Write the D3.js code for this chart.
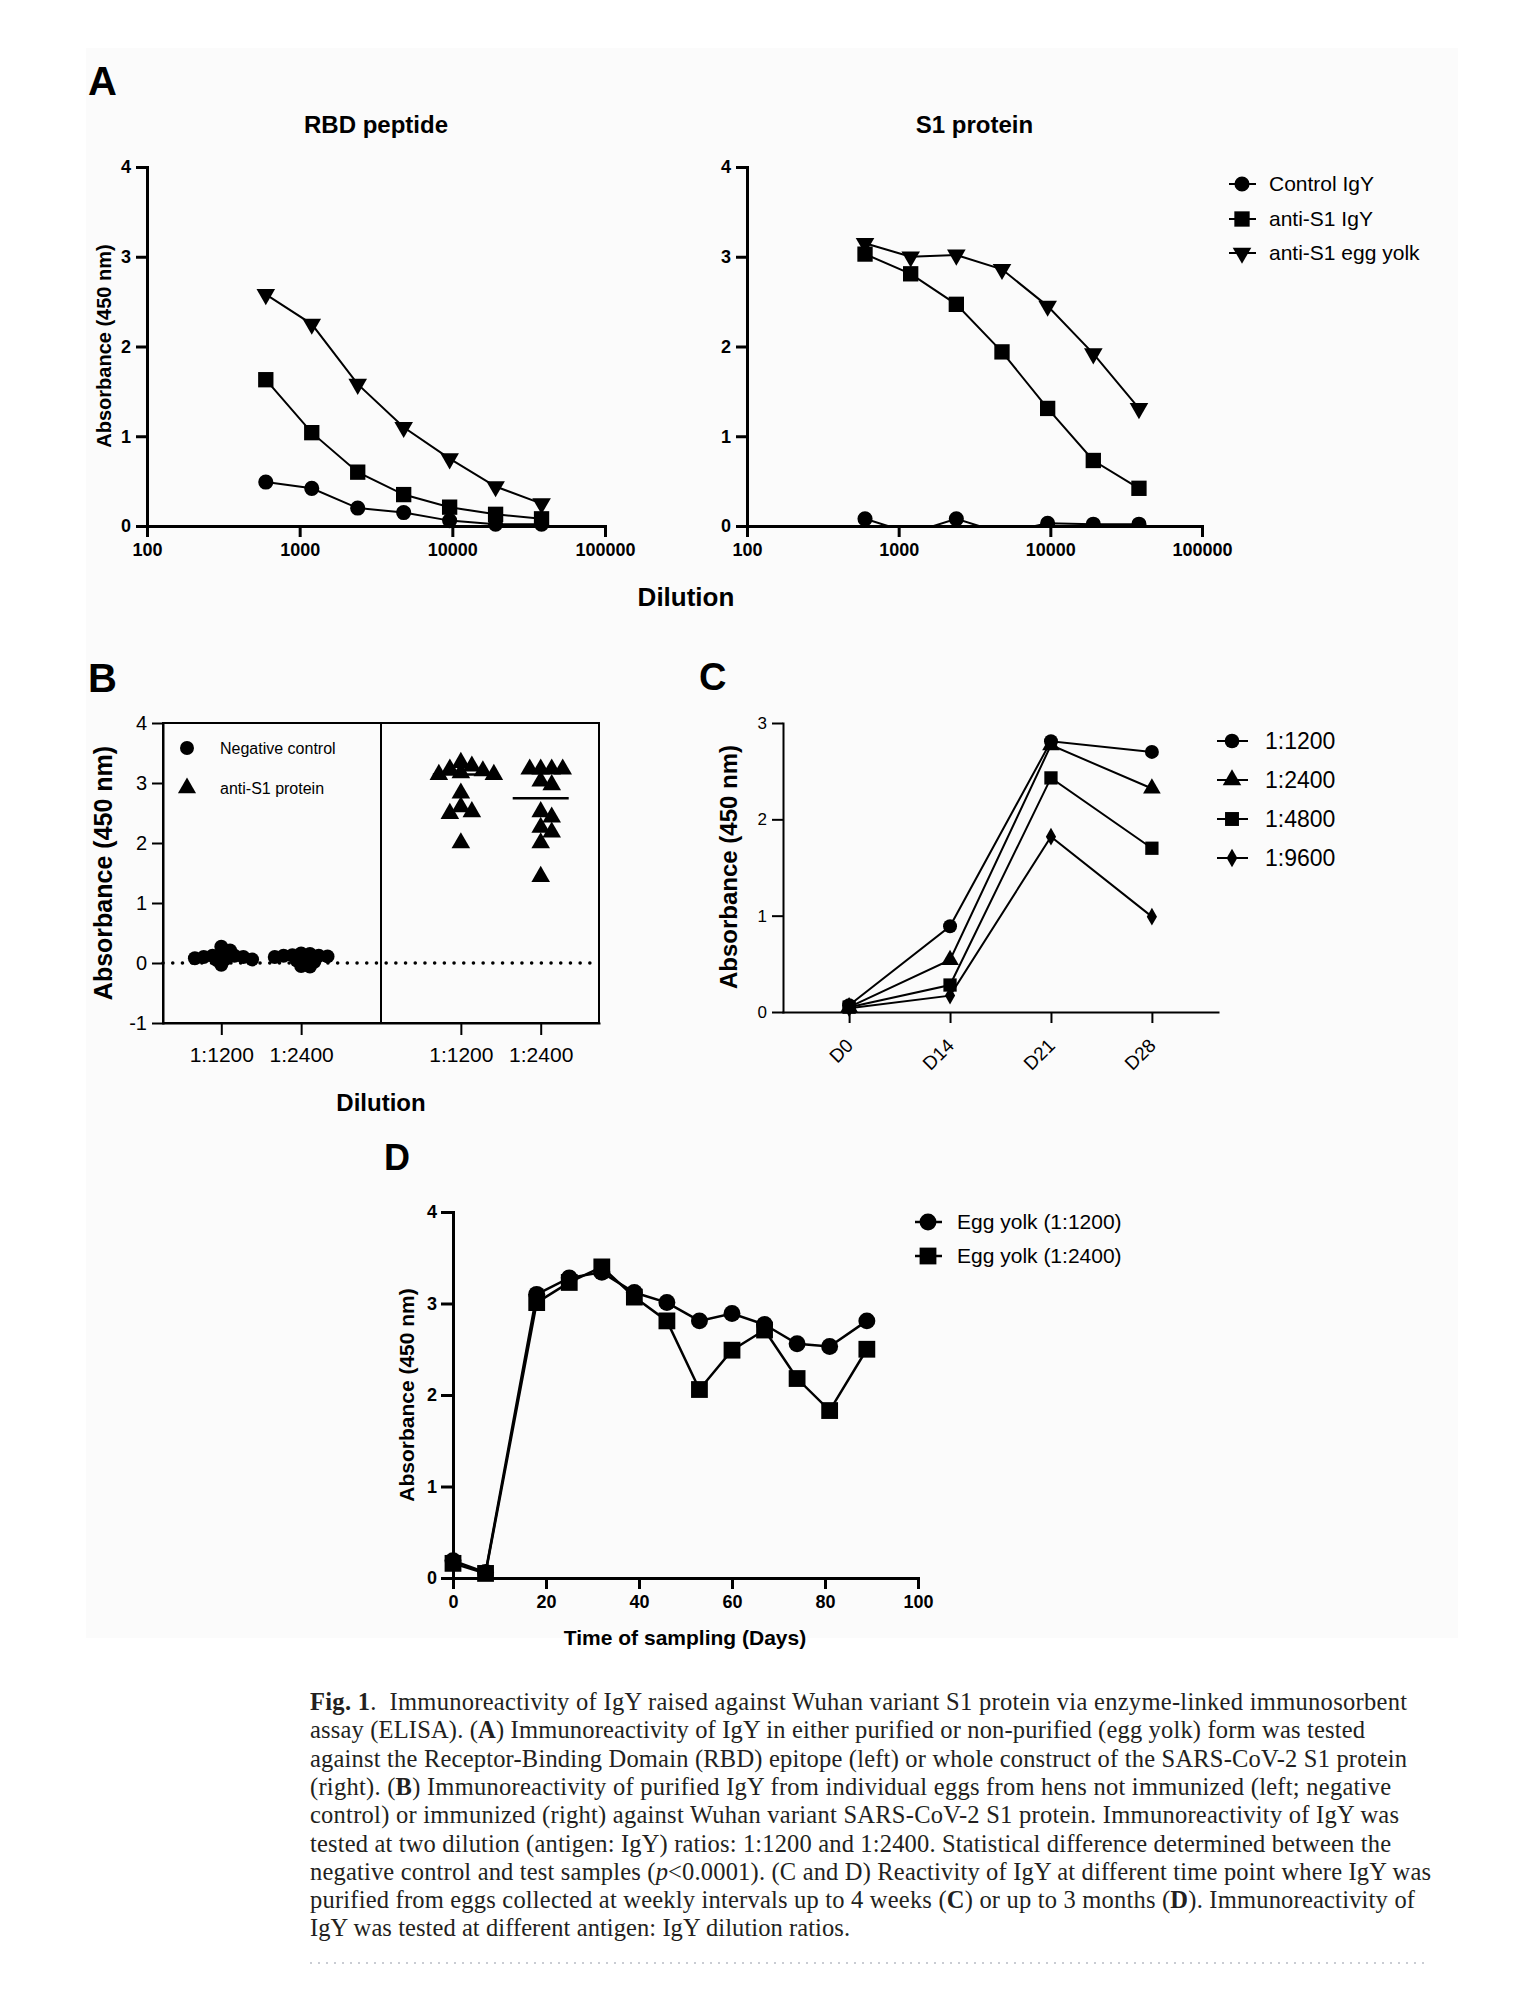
<!DOCTYPE html>
<html lang="en">
<head>
  <meta charset="UTF-8">
  <title>Fig. 1 - IgY ELISA</title>
  <style>
    body { margin: 0; background: #ffffff; }
    svg { display: block; }
    .cap { white-space: pre; }
  </style>
</head>
<body>
  <svg id="fig" width="1522" height="2010"></svg>

  <script src="https://d3js.org/d3.v7.min.js"></script>
  <script>
    // ---- panel A : dilution curves ----
    const dilutions = [600, 1200, 2400, 4800, 9600, 19200, 38400];
    const dilutionTicks = [100, 1000, 10000, 100000];
    const rbdControl = [0.49, 0.42, 0.20, 0.15, 0.06, 0.02, 0.02];
    const rbdAntiIgY = [1.63, 1.04, 0.60, 0.35, 0.21, 0.13, 0.08];
    const rbdEggYolk = [2.58, 2.25, 1.58, 1.10, 0.75, 0.44, 0.25];
    const s1Control = [0.08, -0.08, 0.08, -0.08, 0.03, 0.02, 0.02];
    const s1AntiIgY = [3.03, 2.81, 2.47, 1.94, 1.31, 0.73, 0.42];
    const s1EggYolk = [3.15, 3.00, 3.02, 2.86, 2.45, 1.92, 1.31];
    const seriesA = ["Control IgY", "anti-S1 IgY", "anti-S1 egg yolk"];

    // ---- panel B : individual eggs ----
    const groupsB = ["1:1200", "1:2400", "1:1200", "1:2400"];
    const neg1200 = [0.12, 0.10, 0.07, 0.06, 0.10, 0.14, 0.27, 0.05, 0.21, 0.12, -0.03, 0.08];
    const neg2400 = [0.10, 0.11, 0.08, 0.12, 0.04, 0.13, 0.16, 0.15, 0.02, -0.05, 0.12, -0.06];
    const pos1200 = [3.34, 3.14, 3.23, 3.20, 3.28, 3.17, 3.14, 2.83, 2.60, 2.52, 2.49, 2.00];
    const pos2400 = [3.23, 3.23, 3.23, 3.23, 3.03, 2.97, 2.43, 2.52, 2.26, 2.18, 2.00, 1.44];
    const legendB = ["Negative control", "anti-S1 protein"];

    // ---- panel C : weekly ----
    const daysC = ["D0", "D14", "D21", "D28"];
    const c1200 = [0.07, 0.89, 2.81, 2.70];
    const c2400 = [0.05, 0.54, 2.77, 2.32];
    const c4800 = [0.05, 0.28, 2.43, 1.70];
    const c9600 = [0.04, 0.17, 1.82, 0.99];
    const seriesC = ["1:1200", "1:2400", "1:4800", "1:9600"];

    // ---- panel D : 3 months ----
    const daysD = [0, 7, 18, 25, 32, 39, 46, 53, 60, 67, 74, 81, 89];
    const d1200 = [0.19, 0.06, 3.10, 3.28, 3.34, 3.12, 3.01, 2.81, 2.89, 2.77, 2.56, 2.53, 2.81];
    const d2400 = [0.16, 0.05, 3.01, 3.23, 3.40, 3.07, 2.81, 2.06, 2.49, 2.71, 2.18, 1.83, 2.50];
    const seriesD = ["Egg yolk (1:1200)", "Egg yolk (1:2400)"];

    // ---- caption ----
    const captionLines = [
      [["Fig. 1", "b"], [".  Immunoreactivity of IgY raised against Wuhan variant S1 protein via enzyme-linked immunosorbent", ""]],
      [["assay (ELISA). (", ""], ["A", "b"], [") Immunoreactivity of IgY in either purified or non-purified (egg yolk) form was tested", ""]],
      [["against the Receptor-Binding Domain (RBD) epitope (left) or whole construct of the SARS-CoV-2 S1 protein", ""]],
      [["(right). (", ""], ["B", "b"], [") Immunoreactivity of purified IgY from individual eggs from hens not immunized (left; negative", ""]],
      [["control) or immunized (right) against Wuhan variant SARS-CoV-2 S1 protein. Immunoreactivity of IgY was", ""]],
      [["tested at two dilution (antigen: IgY) ratios: 1:1200 and 1:2400. Statistical difference determined between the", ""]],
      [["negative control and test samples (", ""], ["p", "i"], ["<0.0001). (C and D) Reactivity of IgY at different time point where IgY was", ""]],
      [["purified from eggs collected at weekly intervals up to 4 weeks (", ""], ["C", "b"], [") or up to 3 months (", ""], ["D", "b"], ["). Immunoreactivity of", ""]],
      [["IgY was tested at different antigen: IgY dilution ratios.", ""]]
    ];
    const captionWidths = [1097, 1055, 1097, 1081, 1089, 1081, 1121, 1105, 540];

    const FONT = '"Liberation Sans", Arial, Helvetica, sans-serif';
    const svg = d3.select("#fig").attr("font-family", FONT);
    const intFmt = d => String(d);

    // light figure background
    svg.append("rect").attr("x", 86).attr("y", 48).attr("width", 1372).attr("height", 1590).attr("fill", "#fbfbfb");

    const shapes = {
      circle: { type: d3.symbolCircle, size: 180, rot: 0 },
      square: { type: d3.symbolSquare, size: 235, rot: 0 },
      up: { type: d3.symbolTriangle, size: 150, rot: 0 },
      down: { type: d3.symbolTriangle, size: 150, rot: 180 },
      diamond: { type: d3.symbolDiamond, size: 90, rot: 0 }
    };

    function marker(g, shape, x, y, k) {
      g.append("path")
        .attr("d", d3.symbol().type(shape.type).size(shape.size * (k || 1))())
        .attr("transform", `translate(${x},${y}) rotate(${shape.rot})`)
        .attr("fill", "#000");
    }

    function series(g, xs, ys, x, y, shape, lw, k) {
      const pts = xs.map((v, i) => [x(v), y(ys[i])]);
      g.append("path").attr("d", d3.line()(pts))
        .attr("fill", "none").attr("stroke", "#000").attr("stroke-width", lw);
      pts.forEach(p => marker(g, shape, p[0], p[1], k));
    }

    function styleAxis(g, sw, size, weight) {
      g.attr("font-family", FONT).attr("font-size", size);
      g.select(".domain").attr("stroke", "#000").attr("stroke-width", sw).attr("stroke-linecap", "square");
      g.selectAll(".tick line").attr("stroke", "#000").attr("stroke-width", sw);
      g.selectAll(".tick text").attr("fill", "#000").attr("font-weight", weight);
    }

    function label(txt, x, y, size, weight, anchor) {
      return svg.append("text").attr("x", x).attr("y", y)
        .attr("font-size", size).attr("font-weight", weight || "normal")
        .attr("text-anchor", anchor || "middle").attr("fill", "#000").text(txt);
    }

    function yTitle(txt, cx, cy, size) {
      svg.append("text").attr("transform", `translate(${cx},${cy}) rotate(-90)`)
        .attr("dy", "0.35em").attr("text-anchor", "middle")
        .attr("font-size", size).attr("font-weight", "bold").attr("fill", "#000").text(txt);
    }

    function legendRow(g, shape, x, y, txt, x0, x1, tx, size, lw, k) {
      g.append("line").attr("x1", x0).attr("x2", x1).attr("y1", y).attr("y2", y)
        .attr("stroke", "#000").attr("stroke-width", lw);
      marker(g, shape, x, y, k);
      g.append("text").attr("x", tx).attr("y", y).attr("dy", "0.35em")
        .attr("font-size", size).attr("fill", "#000").text(txt);
    }

    // panel letters
    label("A", 88, 95, 40, "bold", "start");
    label("B", 88, 692, 40, "bold", "start");
    label("C", 699, 690, 38, "bold", "start");
    label("D", 384, 1170, 36, "bold", "start");

    // ================= Panel A =================
    function panelA(x0, x1, title, ctrl, igy, yolk, clip) {
      const x = d3.scaleLog().domain([100, 100000]).range([x0, x1]);
      const y = d3.scaleLinear().domain([0, 4]).range([526, 167]);
      const g = svg.append("g");

      if (clip) {
        svg.append("clipPath").attr("id", clip).append("rect")
          .attr("x", x0 - 20).attr("y", 140).attr("width", x1 - x0 + 40).attr("height", y(0) + 1.5 - 140);
        g.attr("clip-path", `url(#${clip})`);
      }
      series(g, dilutions, ctrl, x, y, shapes.circle, 2);
      series(g, dilutions, igy, x, y, shapes.square, 2);
      series(g, dilutions, yolk, x, y, shapes.down, 2);

      const ax = svg.append("g").attr("transform", `translate(0,${y(0)})`)
        .call(d3.axisBottom(x).tickValues(dilutionTicks).tickFormat(intFmt).tickSize(11).tickSizeOuter(0).tickPadding(6));
      styleAxis(ax, 3, 18, "bold");
      const ay = svg.append("g").attr("transform", `translate(${x0},0)`)
        .call(d3.axisLeft(y).tickValues([0, 1, 2, 3, 4]).tickFormat(intFmt).tickSize(11).tickSizeOuter(0).tickPadding(5));
      styleAxis(ay, 3, 18, "bold");

      label(title, (x0 + x1) / 2, 133, 24, "bold");
    }
    panelA(147, 605, "RBD peptide", rbdControl, rbdAntiIgY, rbdEggYolk, null);
    panelA(747, 1202, "S1 protein", s1Control, s1AntiIgY, s1EggYolk, "clipS1");
    yTitle("Absorbance (450 nm)", 104, 346, 20);
    label("Dilution", 686, 606, 26, "bold");

    const legA = svg.append("g");
    [shapes.circle, shapes.square, shapes.down].forEach((s, i) =>
      legendRow(legA, s, 1242, [184, 219, 253][i], seriesA[i], 1229, 1256, 1269, 21, 2));

    // ================= Panel B =================
    const xB = d3.scalePoint().domain(["n1", "n2", "gap", "p1", "p2"]).range([163, 599]).padding(0.73);
    const yB = d3.scaleLinear().domain([-1, 4]).range([1023, 723]);
    const gB = svg.append("g");

    gB.append("line").attr("x1", 163).attr("x2", 599).attr("y1", yB(0)).attr("y2", yB(0))
      .attr("stroke", "#000").attr("stroke-width", 3.5).attr("stroke-linecap", "round")
      .attr("stroke-dasharray", "0.1 9.6");

    // simple beeswarm: spread points sideways until they stop overlapping
    function swarm(values, cx, dmin, step) {
      const order = d3.range(values.length).sort((a, b) => values[b] - values[a]);
      const placed = [];
      const out = [];
      order.forEach(i => {
        const py = yB(values[i]);
        let px = cx;
        for (let k = 0; k < 60; k++) {
          const off = k === 0 ? 0 : (k % 2 ? 1 : -1) * Math.ceil(k / 2) * step;
          if (placed.every(p => Math.hypot(p[0] - (cx + off), p[1] - py) >= dmin)) { px = cx + off; break; }
        }
        placed.push([px, py]);
        out[i] = [px, py];
      });
      return out;
    }

    const groupsData = [
      { key: "n1", vals: neg1200, shape: shapes.circle, dmin: 6, step: 4.4 },
      { key: "n2", vals: neg2400, shape: shapes.circle, dmin: 6, step: 4.4 },
      { key: "p1", vals: pos1200, shape: shapes.up, dmin: 10, step: 5.5 },
      { key: "p2", vals: pos2400, shape: shapes.up, dmin: 10, step: 5.5 }
    ];
    groupsData.forEach(gr => {
      const cx = xB(gr.key);
      swarm(gr.vals, cx, gr.dmin, gr.step).forEach(p => marker(gB, gr.shape, p[0], p[1], gr.shape === shapes.circle ? 0.85 : 1));
      const med = d3.median(gr.vals);
      gB.append("line").attr("x1", cx - 28).attr("x2", cx + 28).attr("y1", yB(med)).attr("y2", yB(med))
        .attr("stroke", "#000").attr("stroke-width", 2.5);
    });

    gB.append("rect").attr("x", 163).attr("y", 723).attr("width", 599 - 163).attr("height", 300)
      .attr("fill", "none").attr("stroke", "#000").attr("stroke-width", 2);
    gB.append("line").attr("x1", xB("gap")).attr("x2", xB("gap")).attr("y1", 723).attr("y2", 1023)
      .attr("stroke", "#000").attr("stroke-width", 2);

    const bx = svg.append("g").attr("transform", "translate(0,1023)")
      .call(d3.axisBottom(xB).tickValues(["n1", "n2", "p1", "p2"]).tickFormat((d, i) => groupsB[i]).tickSize(12).tickSizeOuter(0).tickPadding(12));
    styleAxis(bx, 2, 21, "normal");
    const by = svg.append("g").attr("transform", "translate(163,0)")
      .call(d3.axisLeft(yB).tickValues([-1, 0, 1, 2, 3, 4]).tickFormat(intFmt).tickSize(11).tickSizeOuter(0).tickPadding(5));
    styleAxis(by, 2, 20, "normal");

    marker(gB, shapes.circle, 187, 748, 0.85);
    marker(gB, shapes.up, 187, 788, 0.95);
    gB.append("text").attr("x", 220).attr("y", 748).attr("dy", "0.35em").attr("font-size", 16).text(legendB[0]);
    gB.append("text").attr("x", 220).attr("y", 788).attr("dy", "0.35em").attr("font-size", 16).text(legendB[1]);

    yTitle("Absorbance (450 nm)", 103, 873, 25);
    label("Dilution", 381, 1111, 24, "bold");

    // ================= Panel C =================
    const xC = d3.scalePoint().domain(daysC).range([783, 1218]).padding(0.655);
    const yC = d3.scaleLinear().domain([0, 3]).range([1012, 723]);
    const gC = svg.append("g");
    const cSeries = [c1200, c2400, c4800, c9600];
    const cShapes = [shapes.circle, shapes.up, shapes.square, shapes.diamond];
    const cSize = [0.85, 0.9, 0.75, 1];
    cSeries.forEach((s, i) => series(gC, daysC, s, xC, yC, cShapes[i], 2, cSize[i]));

    const cx = svg.append("g").attr("transform", "translate(0,1012)")
      .call(d3.axisBottom(xC).tickSize(11).tickSizeOuter(0));
    styleAxis(cx, 2, 19, "normal");
    cx.selectAll(".tick text").attr("x", 0).attr("y", 0).attr("dy", "0.35em")
      .attr("text-anchor", "end").attr("transform", "translate(0,30) rotate(-45)");
    const cy = svg.append("g").attr("transform", "translate(783,0)")
      .call(d3.axisLeft(yC).tickValues([0, 1, 2, 3]).tickFormat(intFmt).tickSize(11).tickSizeOuter(0).tickPadding(5));
    styleAxis(cy, 2, 17, "normal");
    yTitle("Absorbance (450 nm)", 729, 867, 24);

    const legC = svg.append("g");
    cShapes.forEach((s, i) =>
      legendRow(legC, s, 1232, [741, 780, 819, 858][i], seriesC[i], 1217, 1248, 1265, 23, 2, cSize[i] * 1.1));

    // ================= Panel D =================
    const xD = d3.scaleLinear().domain([0, 100]).range([453, 918]);
    const yD = d3.scaleLinear().domain([0, 4]).range([1578, 1212]);
    const gD = svg.append("g");
    series(gD, daysD, d1200, xD, yD, shapes.circle, 2.5, 1.25);
    series(gD, daysD, d2400, xD, yD, shapes.square, 2.5, 1.2);

    const dx = svg.append("g").attr("transform", "translate(0,1578)")
      .call(d3.axisBottom(xD).tickValues([0, 20, 40, 60, 80, 100]).tickFormat(intFmt).tickSize(11).tickSizeOuter(0).tickPadding(6));
    styleAxis(dx, 3, 18, "bold");
    const dy = svg.append("g").attr("transform", "translate(453,0)")
      .call(d3.axisLeft(yD).tickValues([0, 1, 2, 3, 4]).tickFormat(intFmt).tickSize(12).tickSizeOuter(0).tickPadding(4));
    styleAxis(dy, 3, 18, "bold");
    yTitle("Absorbance (450 nm)", 407, 1395, 21);
    label("Time of sampling (Days)", 685, 1645, 21, "bold");

    const legD = svg.append("g");
    legendRow(legD, shapes.circle, 928, 1222, seriesD[0], 915, 942, 957, 21, 2.5, 1.25);
    legendRow(legD, shapes.square, 928, 1256, seriesD[1], 915, 942, 957, 21, 2.5, 1.2);

    // ================= Caption =================
    const cap = svg.append("g").attr("font-family", '"Liberation Serif", "Times New Roman", serif')
      .attr("font-size", 24.5).attr("fill", "#231f20");
    captionLines.forEach((parts, i) => {
      const t = cap.append("text").attr("class", "cap").attr("x", 310).attr("y", 1710 + i * 28.3)
        .attr("textLength", captionWidths[i]).attr("lengthAdjust", "spacing");
      parts.forEach(([txt, st]) => {
        t.append("tspan").text(txt)
          .attr("font-weight", st === "b" ? "bold" : null)
          .attr("font-style", st === "i" ? "italic" : null);
      });
    });
    cap.append("line").attr("x1", 310).attr("x2", 1430).attr("y1", 1963).attr("y2", 1963)
      .attr("stroke", "#c9ccd3").attr("stroke-width", 2).attr("stroke-dasharray", "2 6");
  </script>
</body>
</html>
